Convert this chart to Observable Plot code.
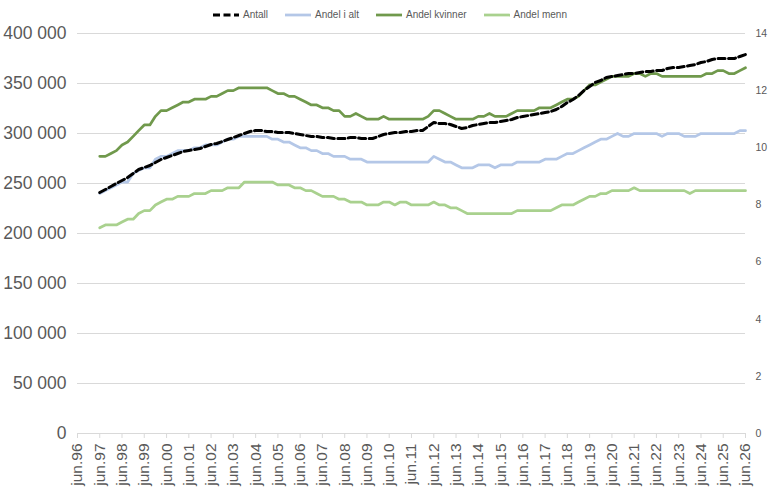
<!DOCTYPE html>
<html><head><meta charset="utf-8">
<script src="https://cdn.jsdelivr.net/npm/d3@7"></script>
<script src="https://cdn.jsdelivr.net/npm/@observablehq/plot@0.6"></script>
<style>
body{margin:0;background:#fff;font-family:"Liberation Sans",Arial,sans-serif;}
#legend{height:24px;display:flex;justify-content:center;align-items:center;gap:17px;font-size:10px;color:#595959;padding-left:12px;padding-top:5px;box-sizing:border-box}
.item{display:flex;align-items:center;gap:4px}
.item svg{display:block}
</style></head><body>
<div id="legend"></div>
<div id="chart"></div>
<script>
// Quarterly observations from jun.97 to jun.26
const firstQuarter = new Date(Date.UTC(1997, 5, 1));
const antallTusen = [
241,244,247,250, 253,256,260,264, 266,268,271,274, 276,278,280,282,
283,284,285,287, 289,290,292,294, 296,298,300,302, 303,303,302,302,
301,301,301,300, 299,298,297,297, 296,296,295,295, 295,296,296,295,
295,295,297,299, 300,301,301,302, 302,303,303,307, 311,310,310,309,
307,305,306,308, 309,310,311,311, 312,313,314,316, 317,318,319,320,
321,322,324,327, 331,334,338,343, 347,351,353,356, 357,358,359,360,
360,361,362,362, 363,363,365,366, 366,367,368,369, 371,372,374,375,
375,375,375,377, 379
];
const andelIAlt = [
8.4,8.5,8.6,8.7, 8.8,8.8,9.1,9.2, 9.3,9.3,9.6,9.7, 9.7,9.8,9.9,9.9,
9.9,10.0,10.0,10.1, 10.1,10.1,10.2,10.3, 10.3,10.4,10.4,10.4, 10.4,10.4,10.4,10.3,
10.3,10.2,10.2,10.1, 10.0,10.0,9.9,9.9, 9.8,9.8,9.7,9.7, 9.7,9.6,9.6,9.6,
9.5,9.5,9.5,9.5, 9.5,9.5,9.5,9.5, 9.5,9.5,9.5,9.5, 9.7,9.6,9.5,9.5,
9.4,9.3,9.3,9.3, 9.4,9.4,9.4,9.3, 9.4,9.4,9.4,9.5, 9.5,9.5,9.5,9.5,
9.6,9.6,9.6,9.7, 9.8,9.8,9.9,10.0, 10.1,10.2,10.3,10.3, 10.4,10.5,10.4,10.4,
10.5,10.5,10.5,10.5, 10.5,10.4,10.5,10.5, 10.5,10.4,10.4,10.4, 10.5,10.5,10.5,10.5,
10.5,10.5,10.5,10.6, 10.6
];
const andelKvinner = [
9.7,9.7,9.8,9.9, 10.1,10.2,10.4,10.6, 10.8,10.8,11.1,11.3, 11.3,11.4,11.5,11.6,
11.6,11.7,11.7,11.7, 11.8,11.8,11.9,12.0, 12.0,12.1,12.1,12.1, 12.1,12.1,12.1,12.0,
11.9,11.9,11.8,11.8, 11.7,11.6,11.5,11.5, 11.4,11.4,11.3,11.3, 11.1,11.1,11.2,11.1,
11.0,11.0,11.0,11.1, 11.0,11.0,11.0,11.0, 11.0,11.0,11.0,11.1, 11.3,11.3,11.2,11.1,
11.0,11.0,11.0,11.0, 11.1,11.1,11.2,11.1, 11.1,11.1,11.2,11.3, 11.3,11.3,11.3,11.4,
11.4,11.4,11.5,11.6, 11.7,11.7,11.8,12.0, 12.2,12.2,12.3,12.4, 12.5,12.5,12.5,12.5,
12.6,12.6,12.5,12.6, 12.6,12.5,12.5,12.5, 12.5,12.5,12.5,12.5, 12.5,12.6,12.6,12.7,
12.7,12.6,12.6,12.7, 12.8
];
const andelMenn = [
7.2,7.3,7.3,7.3, 7.4,7.5,7.5,7.7, 7.8,7.8,8.0,8.1, 8.2,8.2,8.3,8.3,
8.3,8.4,8.4,8.4, 8.5,8.5,8.5,8.6, 8.6,8.6,8.8,8.8, 8.8,8.8,8.8,8.8,
8.7,8.7,8.7,8.6, 8.6,8.5,8.5,8.4, 8.3,8.3,8.3,8.2, 8.2,8.1,8.1,8.1,
8.0,8.0,8.0,8.1, 8.1,8.0,8.1,8.1, 8.0,8.0,8.0,8.0, 8.1,8.0,8.0,7.9,
7.9,7.8,7.7,7.7, 7.7,7.7,7.7,7.7, 7.7,7.7,7.7,7.8, 7.8,7.8,7.8,7.8,
7.8,7.8,7.9,8.0, 8.0,8.0,8.1,8.2, 8.3,8.3,8.4,8.4, 8.5,8.5,8.5,8.5,
8.6,8.5,8.5,8.5, 8.5,8.5,8.5,8.5, 8.5,8.5,8.4,8.5, 8.5,8.5,8.5,8.5,
8.5,8.5,8.5,8.5, 8.5
];
const leftTicks = [0,50000,100000,150000,200000,250000,300000,350000,400000];
const rightTicks = [0,2,4,6,8,10,12,14];
const tickYears = d3.range(1996, 2027);

const series = [
  {name:"Antall", color:"#000000", dash:"7,3.5", width:3},
  {name:"Andel i alt", color:"#b4c7e7", dash:null, width:2.75},
  {name:"Andel kvinner", color:"#70994c", dash:null, width:2.75},
  {name:"Andel menn", color:"#a9d18e", dash:null, width:2.75}
];

const K = 400000 / 14; // right axis (percent) to left axis units
const dates = antallTusen.map((_, i) => d3.utcMonth.offset(firstQuarter, 3 * i));
const antallRows = dates.map((d, i) => ({date: d, v: antallTusen[i] * 1000}));
const pctRows = (arr) => dates.map((d, i) => ({date: d, v: arr[i] * K}));
const xTicks = tickYears.map(y => new Date(Date.UTC(y, 5, 1)));
const locale = d3.formatLocale({decimal: ",", thousands: " ", grouping: [3], currency: ["", ""]});
const fmt = locale.format(",");

// legend
const lg = document.getElementById("legend");
series.forEach(s => {
  const it = document.createElement("div");
  it.className = "item";
  it.innerHTML = `<svg width="26" height="6"><line x1="0" x2="26" y1="3" y2="3" stroke="${s.color}" stroke-width="${s.width}" ${s.dash ? `stroke-dasharray="${s.dash}"` : ""}/></svg><span>${s.name}</span>`;
  lg.appendChild(it);
});

const chart = Plot.plot({
  width: 768,
  height: 478,
  marginLeft: 77,
  marginRight: 23,
  marginTop: 9,
  marginBottom: 69,
  x: {type: "utc", domain: [xTicks[0], xTicks[xTicks.length - 1]], label: null},
  y: {domain: [0, 400000], label: null},
  style: {fontFamily: "'Liberation Sans', Arial, sans-serif", background: "white", color: "#595959"},
  marks: [
    Plot.gridY(leftTicks.filter(t => t > 0), {stroke: "#d9d9d9", strokeOpacity: 1, strokeWidth: 1}),
    Plot.ruleY([0], {stroke: "#d9d9d9", strokeWidth: 1}),
    Plot.axisY(leftTicks, {anchor: "left", label: null, tickSize: 0, tickPadding: 11, fontSize: 17.5, tickFormat: fmt, fill: "#595959"}),
    Plot.axisY(rightTicks.map(t => t * K), {anchor: "right", label: null, tickSize: 0, tickPadding: 10, fontSize: 10.5, tickFormat: d => String(Math.round(d / K)), fill: "#595959"}),
    Plot.axisX(xTicks, {anchor: "bottom", label: null, tickRotate: -90, tickSize: 5, tickPadding: 5, fontSize: 15.5, stroke: "#d9d9d9", fill: "#595959",
      tickFormat: d => "jun." + String(d.getUTCFullYear()).slice(2)}),
    Plot.lineY(pctRows(andelMenn), {x: "date", y: "v", stroke: series[3].color, strokeWidth: series[3].width}),
    Plot.lineY(pctRows(andelKvinner), {x: "date", y: "v", stroke: series[2].color, strokeWidth: series[2].width}),
    Plot.lineY(pctRows(andelIAlt), {x: "date", y: "v", stroke: series[1].color, strokeWidth: series[1].width}),
    Plot.lineY(antallRows, {x: "date", y: "v", stroke: series[0].color, strokeWidth: series[0].width, strokeDasharray: series[0].dash})
  ]
});
document.getElementById("chart").appendChild(chart);
</script></body></html>
